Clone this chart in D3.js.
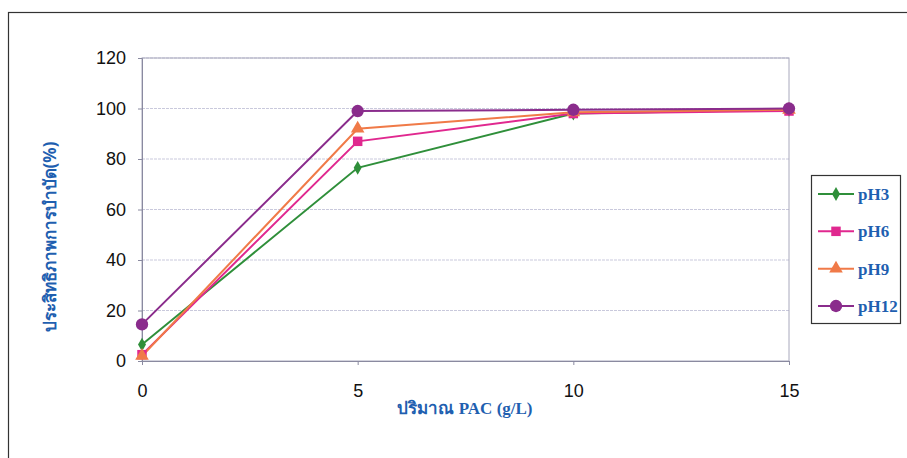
<!DOCTYPE html>
<html><head><meta charset="utf-8">
<script src="https://cdn.jsdelivr.net/npm/d3@7"></script>
<style>body{margin:0;background:#fff;}svg{display:block;}</style>
</head><body><svg id="c" width="907" height="458"></svg>
<script>
const doses = [0, 5, 10, 15];
const seriesNames = ["pH3", "pH6", "pH9", "pH12"];
const pH3 = [6.5, 76.5, 98, 99.5];
const pH6 = [2.5, 87, 98, 99];
const pH9 = [2, 92, 98.5, 99.5];
const pH12 = [14.5, 99, 99.5, 100];
const yTicks = [0, 20, 40, 60, 80, 100, 120];
const xTicks = [0, 5, 10, 15];
const yLabel = "ประสิทธิภาพการบำบัด(%)";
const xLabel = "ปริมาณ PAC (g/L)";

const colors = {pH3:"#2f8f3a", pH6:"#e0288f", pH9:"#f07a48", pH12:"#8a2c8c"};
const shapes = {pH3:d3.symbolDiamond, pH6:d3.symbolSquare, pH9:d3.symbolTriangle, pH12:d3.symbolCircle};
const sizes = {pH3:55, pH6:90, pH9:80, pH12:120};
const values = {pH3, pH6, pH9, pH12};

const svg = d3.select("#c");
// outer chart border
svg.append("rect").attr("x",8.5).attr("y",12.5).attr("width",910).attr("height",460)
  .attr("fill","none").attr("stroke","#333").attr("stroke-width",1.2);

const x = d3.scaleLinear().domain([0,15]).range([142,789]);
const y = d3.scaleLinear().domain([0,120]).range([361,58]);

// gridlines
svg.append("g").selectAll("line").data(yTicks.filter(d=>d>0)).join("line")
  .attr("x1",x(0)).attr("x2",x(15)).attr("y1",d=>y(d)).attr("y2",d=>y(d))
  .attr("stroke","#c9c9dc").attr("stroke-width",1).attr("stroke-dasharray","3,1");
// plot frame
svg.append("rect").attr("x",x(0)).attr("y",y(120)).attr("width",x(15)-x(0)).attr("height",y(0)-y(120))
  .attr("fill","none").attr("stroke","#a8a8bc").attr("stroke-width",1);

const yAxis = d3.axisLeft(y).tickValues(yTicks).tickSize(4).tickPadding(12);
const gy = svg.append("g").attr("transform",`translate(${x(0)},0)`).call(yAxis);
const xAxis = d3.axisBottom(x).tickValues(xTicks).tickSize(4).tickPadding(19);
const gx = svg.append("g").attr("transform",`translate(0,${y(0)})`).call(xAxis);
[gy,gx].forEach(g=>{
  g.select(".domain").attr("stroke","#8a8aa0");
  g.selectAll(".tick line").attr("stroke","#8a8aa0");
  g.selectAll(".tick text").attr("font-family","Liberation Sans, Arial, sans-serif").attr("font-size",18).attr("fill","#111");
});

const line = d3.line().x((d,i)=>x(doses[i])).y(d=>y(d));
seriesNames.forEach(n=>{
  svg.append("path").datum(values[n]).attr("d",line).attr("fill","none")
    .attr("stroke",colors[n]).attr("stroke-width",2);
});
seriesNames.forEach(n=>{
  svg.append("g").selectAll("path").data(values[n]).join("path")
    .attr("transform",(d,i)=>`translate(${x(doses[i])},${y(d)})`)
    .attr("d",d3.symbol().type(shapes[n]).size(sizes[n]))
    .attr("fill",colors[n]);
});

// axis titles
svg.append("text").attr("transform","translate(56,237) rotate(-90)").attr("text-anchor","middle")
  .attr("font-family","Noto Sans, DejaVu Sans, sans-serif").attr("font-weight","bold").attr("font-size",17)
  .attr("fill","#1f5fb0").text(yLabel);
svg.append("text").attr("x",465).attr("y",414).attr("text-anchor","middle")
  .attr("font-family","Liberation Serif, Noto Sans, serif").attr("font-weight","bold").attr("font-size",17)
  .attr("fill","#1f5fb0").text(xLabel);

// legend
const lg = svg.append("g");
lg.append("rect").attr("x",811.5).attr("y",175.5).attr("width",89).attr("height",148)
  .attr("fill","#fff").attr("stroke","#333").attr("stroke-width",1.2);
const ly = d3.scalePoint().domain(seriesNames).range([194,306]);
seriesNames.forEach(n=>{
  const yy = ly(n);
  lg.append("line").attr("x1",818).attr("x2",854).attr("y1",yy).attr("y2",yy).attr("stroke",colors[n]).attr("stroke-width",2);
  lg.append("path").attr("transform",`translate(836,${yy})`).attr("d",d3.symbol().type(shapes[n]).size(sizes[n])).attr("fill",colors[n]);
  lg.append("text").attr("x",858).attr("y",yy+6).attr("font-family","Liberation Serif, serif").attr("font-weight","bold")
    .attr("font-size",17).attr("fill","#1f5fb0").text(n);
});
</script></body></html>
